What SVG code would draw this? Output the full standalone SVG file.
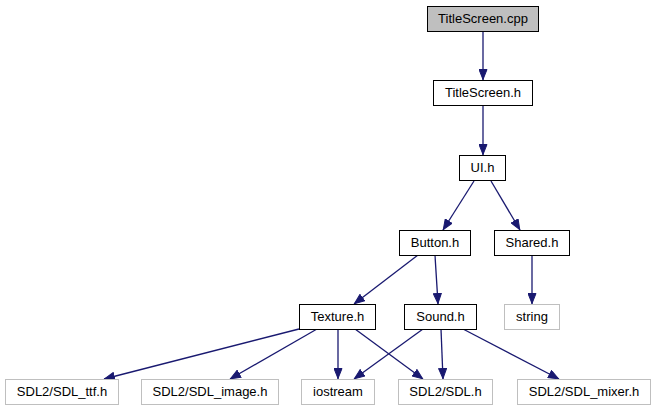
<svg xmlns="http://www.w3.org/2000/svg" width="656" height="411" viewBox="0 0 656 411">
<style>
.n rect{fill:#fff;stroke:#000;stroke-width:1}
.g rect{stroke:#bfbfbf}
.root rect{fill:#bfbfbf}
text{font-family:"Liberation Sans",Arial,sans-serif;font-size:13px;text-anchor:middle;fill:#000}
.e line{stroke:#191970;stroke-width:1.3;fill:none;marker-end:url(#ah)}
</style>
<defs>
<marker id="ah" viewBox="0 0 11 9" refX="11" refY="4.5" markerWidth="11" markerHeight="9" markerUnits="userSpaceOnUse" orient="auto">
<path d="M0.5,0.5 L10.5,4.5 L0.5,8.5 z" fill="#191970" stroke="#191970"/>
</marker>
</defs>
<rect width="656" height="411" fill="#fff"/>
<g class="e" id="edges">
<line x1="483" y1="31" x2="483" y2="80"/>
<line x1="483" y1="106" x2="483" y2="155"/>
<line x1="474" y1="181" x2="443" y2="230"/>
<line x1="491" y1="181" x2="520" y2="230"/>
<line x1="532" y1="255" x2="532" y2="304"/>
<line x1="418" y1="255" x2="354" y2="304"/>
<line x1="435" y1="255" x2="438" y2="304"/>
<line x1="299" y1="329" x2="104" y2="379"/>
<line x1="317" y1="329" x2="230" y2="379"/>
<line x1="338" y1="329" x2="338" y2="379"/>
<line x1="355" y1="329" x2="423" y2="379"/>
<line x1="423" y1="329" x2="354" y2="379"/>
<line x1="441" y1="329" x2="443" y2="379"/>
<line x1="463" y1="329" x2="559" y2="379"/>
</g>
<g class="n root" id="n_titlescreen_cpp"><rect x="427.5" y="6.5" width="111" height="25"/><text x="483" y="23">TitleScreen.cpp</text></g>
<g class="n" id="n_titlescreen_h"><rect x="433.5" y="80.5" width="99" height="25"/><text x="483" y="97">TitleScreen.h</text></g>
<g class="n" id="n_ui_h"><rect x="459.5" y="155.5" width="46" height="25"/><text x="482.5" y="172">UI.h</text></g>
<g class="n" id="n_button_h"><rect x="399.5" y="230.5" width="71" height="25"/><text x="435" y="247">Button.h</text></g>
<g class="n" id="n_shared_h"><rect x="494.5" y="230.5" width="75" height="25"/><text x="532" y="247">Shared.h</text></g>
<g class="n" id="n_texture_h"><rect x="299.5" y="304.5" width="76" height="25"/><text x="337.5" y="321">Texture.h</text></g>
<g class="n" id="n_sound_h"><rect x="404.5" y="304.5" width="72" height="25"/><text x="440.5" y="321">Sound.h</text></g>
<g class="n g" id="n_string"><rect x="504.5" y="304.5" width="55" height="25"/><text x="532" y="321">string</text></g>
<g class="n g" id="n_sdl_ttf"><rect x="5.5" y="379.5" width="113" height="25"/><text x="62" y="396">SDL2/SDL_ttf.h</text></g>
<g class="n g" id="n_sdl_image"><rect x="141.5" y="379.5" width="137" height="25"/><text x="210" y="396">SDL2/SDL_image.h</text></g>
<g class="n g" id="n_iostream"><rect x="301.5" y="379.5" width="73" height="25"/><text x="338" y="396">iostream</text></g>
<g class="n g" id="n_sdl"><rect x="398.5" y="379.5" width="94" height="25"/><text x="445.5" y="396">SDL2/SDL.h</text></g>
<g class="n g" id="n_sdl_mixer"><rect x="517.5" y="379.5" width="133" height="25"/><text x="584" y="396">SDL2/SDL_mixer.h</text></g>
</svg>
